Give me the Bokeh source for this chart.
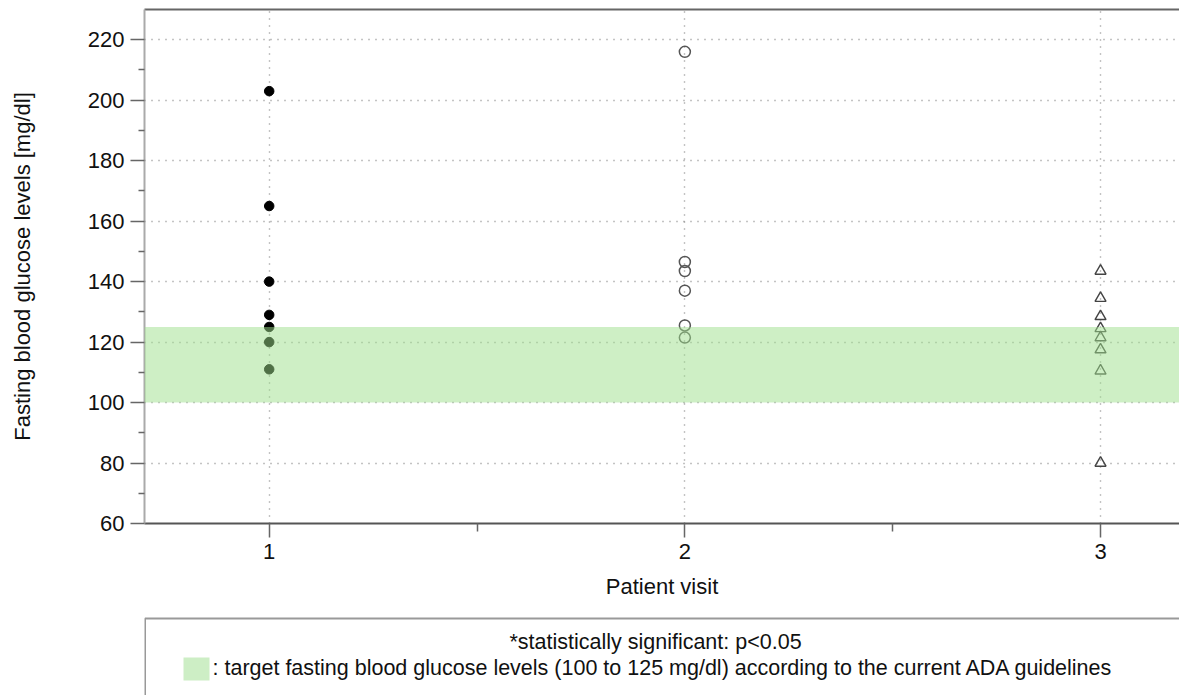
from bokeh.plotting import figure
from bokeh.models import Range1d, FixedTicker, BoxAnnotation, LinearAxis, ColumnDataSource
from bokeh.layouts import column
from bokeh.embed import file_html
from bokeh.resources import INLINE
from bokeh.core.properties import value

# ---- data ----
visit1 = [203, 165, 140, 129, 125, 120, 111]
visit2 = [216, 146.5, 143.5, 137, 125.5, 121.5]
visit3 = [143.5, 134.5, 128.5, 124.5, 121.5, 117.5, 110.5, 80]
x_ticks = [1, 2, 3]
x_minor = [1.5, 2.5]
y_ticks = list(range(60, 221, 20))
y_minor = list(range(70, 221, 20))
target_low, target_high = 100, 125
x_label = "Patient visit"
y_label = "Fasting blood glucose levels [mg/dl]"
note1 = "*statistically significant: p<0.05"
note2 = ": target fasting blood glucose levels (100 to 125 mg/dl) according to the current ADA guidelines"

FONT = "Liberation Sans"
W = 1179
H1 = 612
H2 = 695 - H1

p = figure(width=W, height=H1, x_range=Range1d(0.7, 3.19), y_range=Range1d(60, 230),
           output_backend="svg", toolbar_location=None,
           min_border_left=144, min_border_right=0, min_border_top=9,
           min_border_bottom=H1 - 9 - 514)
p.outline_line_color = None
p.background_fill_color = "white"

# axes
for ax in (p.xaxis[0], p.yaxis[0]):
    ax.major_label_text_font = FONT
    ax.major_label_text_font_size = "22px"
    ax.major_label_text_color = "#111111"
    ax.axis_label_text_font = FONT
    ax.axis_label_text_font_size = "22px"
    ax.axis_label_text_font_style = "normal"
    ax.axis_label_text_color = "#111111"
    ax.major_tick_in = 0
    ax.minor_tick_in = 0
    ax.major_tick_out = 14
    ax.major_tick_line_color = "#666666"
    ax.major_tick_line_width = 1.5
    ax.minor_tick_line_color = "#666666"
    ax.minor_tick_line_width = 1.5
    ax.axis_line_width = 2
    ax.major_label_standoff = 6

p.xaxis[0].ticker = FixedTicker(ticks=x_ticks, minor_ticks=x_minor)
p.yaxis[0].ticker = FixedTicker(ticks=y_ticks, minor_ticks=y_minor)
p.xaxis[0].minor_tick_out = 8
p.yaxis[0].minor_tick_out = 6
p.xaxis[0].axis_label = x_label
p.yaxis[0].axis_label = y_label
p.xaxis[0].axis_label_standoff = 12
p.yaxis[0].axis_label_standoff = 50
p.xaxis[0].axis_line_color = "#555555"
p.yaxis[0].axis_line_color = "#aaaaaa"

top_axis = LinearAxis(ticker=FixedTicker(ticks=[]), major_label_text_font_size="0px",
                      major_tick_out=0, major_tick_in=0, minor_tick_out=0, minor_tick_in=0,
                      major_label_standoff=0, axis_line_color="#666666", axis_line_width=2)
p.add_layout(top_axis, "above")

# grid
p.xgrid[0].ticker = FixedTicker(ticks=x_ticks)
p.ygrid[0].ticker = FixedTicker(ticks=y_ticks[1:])
for g in (p.xgrid[0], p.ygrid[0]):
    g.grid_line_color = "#888888"
    g.grid_line_dash = "1 6"
    g.grid_line_width = 1.4

# points
s1 = ColumnDataSource(dict(x=[x_ticks[0]] * len(visit1), y=visit1))
s2 = ColumnDataSource(dict(x=[x_ticks[1]] * len(visit2), y=visit2))
s3 = ColumnDataSource(dict(x=[x_ticks[2]] * len(visit3), y=visit3))
p.scatter("x", "y", source=s1, marker="circle", size=9.5, fill_color="black", line_color="black")
p.scatter("x", "y", source=s2, marker="circle", size=11, fill_color=None, line_color="#555555", line_width=1.5)
p.scatter("x", "y", source=s3, marker="triangle", size=11, fill_color=None, line_color="#444444", line_width=1.4)

# target band on top
p.add_layout(BoxAnnotation(bottom=target_low, top=target_high, fill_color="#9ee08c",
                           fill_alpha=0.5, line_color=None))

# ---- note box (data coordinates = page pixels) ----
q = figure(width=W, height=H2, x_range=Range1d(144, W), y_range=Range1d(695, H1),
           output_backend="svg", toolbar_location=None, min_border=0,
           min_border_left=144, min_border_right=0)
q.axis.visible = False
q.grid.visible = False
q.outline_line_color = None
q.quad(left=[144.5], right=[W + 50], top=[618], bottom=[800], fill_color=None,
       line_color="#999999", line_width=2)
q.rect(x=[196], y=[668.5], width=26, height=23, fill_color="#cdeec5", line_color=None)
q.text(x=[655], y=[641], text=[note1], text_align="center", text_baseline="middle",
       text_font=value(FONT), text_font_size="21.5px", text_color="#111111")
q.text(x=[212], y=[667], text=[note2], text_align="left", text_baseline="middle",
       text_font=value(FONT), text_font_size="21.5px", text_color="#111111")

layout = column(p, q, spacing=0)
open("out.html", "w").write(file_html(layout, INLINE))
